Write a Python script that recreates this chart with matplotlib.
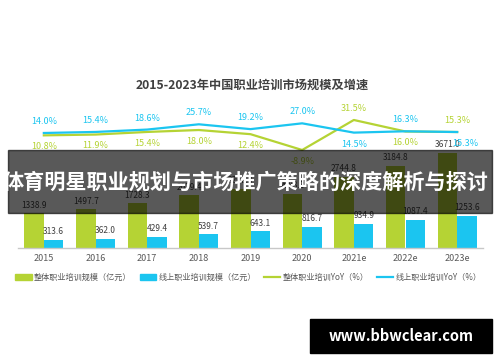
import matplotlib.pyplot as plt
from matplotlib.patches import Rectangle, Patch
from matplotlib.lines import Line2D
import numpy as np

plt.rcParams["font.family"] = ["Noto Sans CJK SC", "DejaVu Sans"]

# ======================
# Data
# ======================
years = ["2015", "2016", "2017", "2018", "2019", "2020", "2021e", "2022e", "2023e"]
total_scale = [1338.9, 1497.7, 1728.3, 2039.4, 2292.3, 2088.3, 2744.8, 3184.8, 3671.0]
online_scale = [313.6, 362.0, 429.4, 539.7, 643.1, 816.7, 934.9, 1087.4, 1253.6]
total_yoy = [10.8, 11.9, 15.4, 18.0, 12.4, -8.9, 31.5, 16.0, 15.3]
online_yoy = [14.0, 15.4, 18.6, 25.7, 19.2, 27.0, 14.5, 16.3, 15.3]

title = "2015-2023年中国职业培训市场规模及增速"
banner_text = "体育明星职业规划与市场推广策略的深度解析与探讨"
watermark = "www.bbwclear.com"

legend_labels = ["整体职业培训规模（亿元）", "线上职业培训规模（亿元）",
                 "整体职业培训YoY（%）", "线上职业培训YoY（%）"]

# label placement (True = above the point)
online_above = [True, True, True, True, True, True, False, True, False]
total_above = [False, False, False, False, False, False, True, False, True]

GREEN = "#b5d334"
BLUE = "#1bc5f0"
TEXT = "#404040"

W, H = 500, 362
fig = plt.figure(figsize=(W / 100, H / 100), dpi=100, facecolor="white")

# main axes: baseline at y=248px, top at y=100px, x from 18 to 483px
ax = fig.add_axes([18 / W, 1 - 248 / H, 465 / W, 148 / H])
x = np.arange(len(years))
bw = 0.38

ax.bar(x - bw / 2, total_scale, bw, color=GREEN)
ax.bar(x + bw / 2, online_scale, bw, color=BLUE)
ax.set_xlim(-0.5, len(years) - 0.5)
ax.set_ylim(0, 5714)

for xi, v in zip(x, total_scale):
    ax.annotate(f"{v:.1f}", (xi - bw / 2, v), xytext=(0, 2.5), textcoords="offset points",
                ha="center", va="bottom", fontsize=6, color=TEXT)
for xi, v in zip(x, online_scale):
    ax.annotate(f"{v:.1f}", (xi + bw / 2, v), xytext=(0, 2.5), textcoords="offset points",
                ha="center", va="bottom", fontsize=6, color=TEXT)

for s in ["top", "left", "right"]:
    ax.spines[s].set_visible(False)
ax.spines["bottom"].set_color("#c8c8c8")
ax.spines["bottom"].set_linewidth(1)
ax.set_yticks([])
ax.set_xticks(x)
ax.set_xticklabels(years, fontsize=6.5, color="#595959")
ax.tick_params(axis="x", length=0, pad=4)

ax2 = ax.twinx()
ax2.set_ylim(-140.8, 58.4)
ax2.plot(x, total_yoy, color=GREEN, lw=1.6)
ax2.plot(x, online_yoy, color=BLUE, lw=1.6)
ax2.axis("off")

for i, (xi, v) in enumerate(zip(x, online_yoy)):
    dx = 6 if i == len(x) - 1 else 0
    dy = 5 if online_above[i] else -5
    ax2.annotate(f"{v:.1f}%", (xi, v), xytext=(dx, dy), textcoords="offset points",
                 ha="center", va="bottom" if online_above[i] else "top",
                 fontsize=6.5, color=BLUE)
for i, (xi, v) in enumerate(zip(x, total_yoy)):
    dy = 5 if total_above[i] else -5
    ax2.annotate(f"{v:.1f}%", (xi, v), xytext=(0, dy), textcoords="offset points",
                 ha="center", va="bottom" if total_above[i] else "top",
                 fontsize=6.5, color=GREEN)

fig.text(252 / W, 1 - 85 / H, title, ha="center", va="center",
         fontsize=8.8, fontweight="bold", color=TEXT)

handles = [Patch(color=GREEN), Patch(color=BLUE),
           Line2D([], [], color=GREEN, lw=1.6), Line2D([], [], color=BLUE, lw=1.6)]
fig.legend(handles, legend_labels, loc="center", bbox_to_anchor=(0.497, 1 - 277 / H),
           ncol=4, frameon=False, fontsize=5.85, labelcolor="#595959",
           handlelength=2.0, handleheight=0.7, handletextpad=0.3, columnspacing=1.0)

# dark banner overlay
fig.patches.append(Rectangle((8 / W, 1 - 213 / H), 484 / W, 63 / H,
                             transform=fig.transFigure, color="black", alpha=0.65,
                             zorder=10))
fig.text(246 / W, 1 - 182 / H, banner_text, ha="center", va="center",
         fontsize=15.2, fontweight="bold", color="white", zorder=11)

# watermark
fig.patches.append(Rectangle((310 / W, 1 - 353 / H), 182 / W, 34 / H,
                             transform=fig.transFigure, color="black", zorder=10))
fig.text(401 / W, 1 - 336 / H, watermark, ha="center", va="center",
         fontsize=10.5, fontweight="bold", color="white", zorder=11)

fig.savefig("out.png", dpi=100, facecolor="white")
